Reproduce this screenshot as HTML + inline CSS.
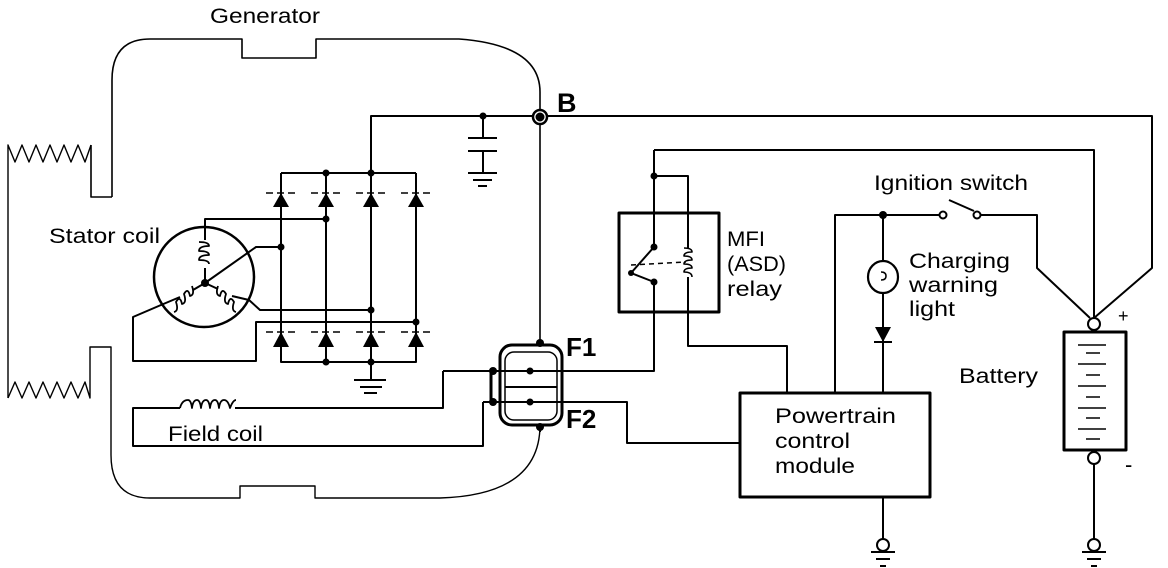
<!DOCTYPE html>
<html><head><meta charset="utf-8"><style>
html,body{margin:0;padding:0;background:#fff;}
svg{display:block;}
text{font-family:"Liberation Sans",sans-serif;fill:#000;}
</style></head><body>
<svg width="1168" height="568" viewBox="0 0 1168 568" xmlns="http://www.w3.org/2000/svg">
<g fill="none" stroke="#000" stroke-width="2" stroke-linejoin="round">
<path d="M112,197 L112,80 Q112,39 150,39 L242,39 L242,58 L316,58 L316,39 L459,39 Q540,45 540,92 L540,343" stroke-width="1.6"/>
<path d="M112,197 L91,197 L91,145" stroke-width="1.6"/>
<path d="M8,398 L8,145 L15,162 L22,145 L29,162 L36,145 L43,162 L50,145 L57,162 L64,145 L71,162 L78,145 L85,162 L91,145" stroke-width="1.4"/>
<path d="M8,398 L15,382 L22,398 L29,382 L36,398 L43,382 L50,398 L57,382 L64,398 L71,382 L78,398 L85,382 L90,398 L90,347 L111,347 L111,455 Q111,498 150,498 L240,498 L240,486 L315,486 L315,498 L440,498 Q540,495 540,425" stroke-width="1.4"/>
<path d="M371,173 L371,116 L1152,116 L1152,268 L1094,318"/>
<circle cx="540" cy="117" r="7" fill="#fff" stroke-width="2.5"/>
<circle cx="540" cy="117" r="3.5" fill="#000"/>
<path d="M483,116 L483,138 M468,138 L497,138 M468,151 L497,151 M483,151 L483,173 M468,173 L497,173 M473,180 L492,180 M478,186 L487,186"/>
<path d="M281,173 L416,173 M281,173 L281,362 L416,362 L416,173 M326,173 L326,362 M371,173 L371,362"/>
<path d="M371,362 L371,380 M354,380 L386,380 M360,387 L382,387 M364,393 L377,393"/>
<g stroke-width="1.5"><path d="M266,193 L296,193 M311,193 L341,193 M356,193 L386,193 M401,193 L431,193 M266,332 L296,332 M311,332 L341,332 M356,332 L386,332 M401,332 L431,332" stroke-dasharray="7,4"/></g>
<g fill="#000" stroke="none">
<polygon points="281,193 273,207 289,207"/><polygon points="326,193 318,207 334,207"/><polygon points="371,193 363,207 379,207"/><polygon points="416,193 408,207 424,207"/>
<polygon points="281,332 273,347 289,347"/><polygon points="326,332 318,347 334,347"/><polygon points="371,332 363,347 379,347"/><polygon points="416,332 408,347 424,347"/>
<circle cx="326" cy="173" r="3.5"/><circle cx="371" cy="173" r="3.5"/><circle cx="483" cy="116" r="3.5"/>
<circle cx="326" cy="219" r="3.5"/><circle cx="281" cy="247" r="3.5"/><circle cx="371" cy="310" r="3.5"/><circle cx="416" cy="322" r="3.5"/>
<circle cx="326" cy="362" r="3.5"/><circle cx="371" cy="362" r="3.5"/>
<circle cx="205" cy="283" r="4"/>
</g>
<circle cx="204" cy="277" r="50" stroke-width="2.5"/>
<path d="M205,227 L205,219 L326,219 M205,227 L205,240 M205,268 L205,283 M205,283 L256,247 L281,247"/>
<path d="M199,242 q10,0 10,4 q-10,0 -10,5 q10,0 10,4 q-10,0 -10,5 q10,0 10,4" stroke-width="1.8"/>
<path d="M205,283 L193,290 M180,297 L161,305 L133,317 L133,361 L256,361 L256,322 L416,322"/>
<path d="M192,286 q3,9 -2,10 q-2,-9 -6,-2 q3,9 -2,10 q-2,-9 -6,-2 q3,9 -2,10" stroke-width="1.8"/>
<path d="M205,283 L218,289 M232,296 L249,300 L260,310 L371,310"/>
<path d="M218,286 q-3,9 2,10 q2,-9 6,-2 q-3,9 2,10 q2,-9 6,-2 q-3,9 2,10" stroke-width="1.8"/>
<rect x="500" y="345" width="62" height="80" rx="12" stroke-width="3"/>
<rect x="505" y="352" width="52" height="68" rx="9" stroke-width="1.5"/>
<path d="M505,387 L557,387"/>
<path d="M443,371 L654,371 L654,282 M483,402 L627,402 L627,443 L740,443"/>
<path d="M491,371 L491,402" stroke-width="3"/>
<path d="M540,425 L540,432"/>
<path d="M443,371 L443,408 L235,408 M180,408 L133,408 L133,446 L483,446 L483,402"/>
<path d="M180,408 q2,-8 8,-8 q3,0 4,8 q1,-8 5,-8 q3,0 4,8 q1,-8 5,-8 q3,0 4,8 q1,-8 5,-8 q3,0 4,8 q1,-8 5,-8 q4,0 6,8 q3,-8 6,-8" stroke-width="1.8"/>
<g fill="#000" stroke="none">
<circle cx="530" cy="371" r="3.5"/><circle cx="530" cy="402" r="3.5"/><circle cx="493" cy="371" r="4"/><circle cx="493" cy="402" r="4"/>
<circle cx="540" cy="343" r="4"/><circle cx="540" cy="427" r="4"/>
</g>
<rect x="619" y="213" width="100" height="99" stroke-width="3"/>
<path d="M654,150 L1094,150 L1094,318 M654,150 L654,247 M654,176 L688,176 L688,248 M688,277 L688,346 L787,346 L787,393"/>
<path d="M631,273 L654,247 M631,273 L654,282"/>
<path d="M631,265 L686,262" stroke-dasharray="5,4" stroke-width="1.5"/>
<path d="M684,248 q8,0 8,4 q-8,0 -8,4 q8,0 8,4 q-8,0 -8,4 q8,0 8,4 q-8,0 -8,4 q8,0 8,5" stroke-width="1.6"/>
<g fill="#000" stroke="none"><circle cx="654" cy="176" r="3.5"/><circle cx="654" cy="247" r="3.5"/><circle cx="654" cy="282" r="3.5"/><circle cx="631" cy="273" r="3"/><circle cx="883" cy="215" r="4"/></g>
<rect x="740" y="393" width="190" height="104" stroke-width="3"/>
<path d="M835,393 L835,215 L939,215 M949,200 L974,211 M981,215 L1037,215 L1037,268 L1090,318"/>
<circle cx="943" cy="215" r="3.5" fill="#fff"/><circle cx="977" cy="215" r="3.5" fill="#fff"/>
<path d="M883,215 L883,261 M883,293 L883,393"/>
<ellipse cx="883" cy="277" rx="15" ry="16" stroke-width="2.2"/>
<path d="M881,272 q5,0 5,4 q0,4 -5,4" stroke-width="1.5"/>
<polygon points="875,327 891,327 883,342" fill="#000" stroke="none"/>
<path d="M874,342 L892,342"/>
<path d="M883,497 L883,539 M871,552 L895,552 M876,559 L890,559 M880,566 L886,566"/>
<circle cx="883" cy="545" r="6" fill="#fff"/>
<rect x="1064" y="332" width="62" height="118" stroke-width="3"/>
<circle cx="1094" cy="324" r="6" fill="#fff"/>
<circle cx="1094" cy="458" r="6" fill="#fff"/>
<path d="M1094,464 L1094,539 M1082,552 L1106,552 M1087,559 L1101,559 M1091,566 L1097,566"/>
<circle cx="1094" cy="545" r="6" fill="#fff"/>
<path d="M1078,345 L1106,345 M1086,353 L1100,353 M1078,364 L1106,364 M1086,375 L1100,375 M1078,386 L1106,386 M1086,397 L1100,397 M1078,408 L1106,408 M1086,418 L1100,418 M1078,429 L1106,429 M1086,439 L1100,439" stroke-width="1.4"/>
</g>
<g font-size="21">
<text x="210" y="23" textLength="110" lengthAdjust="spacingAndGlyphs">Generator</text>
<text x="557" y="112" font-weight="bold" font-size="27">B</text>
<text x="49" y="243" textLength="111" lengthAdjust="spacingAndGlyphs">Stator coil</text>
<text x="566" y="356" font-weight="bold" font-size="26">F1</text>
<text x="566" y="428" font-weight="bold" font-size="26">F2</text>
<text x="168" y="441" textLength="95" lengthAdjust="spacingAndGlyphs">Field coil</text>
<text x="727" y="246" textLength="38" lengthAdjust="spacingAndGlyphs">MFI</text>
<text x="727" y="271" textLength="59" lengthAdjust="spacingAndGlyphs">(ASD)</text>
<text x="727" y="296" textLength="55" lengthAdjust="spacingAndGlyphs">relay</text>
<text x="874" y="190" textLength="154" lengthAdjust="spacingAndGlyphs">Ignition switch</text>
<text x="909" y="268" textLength="101" lengthAdjust="spacingAndGlyphs">Charging</text>
<text x="909" y="292" textLength="89" lengthAdjust="spacingAndGlyphs">warning</text>
<text x="909" y="316" textLength="46" lengthAdjust="spacingAndGlyphs">light</text>
<text x="959" y="383" textLength="79" lengthAdjust="spacingAndGlyphs">Battery</text>
<text x="775" y="423" textLength="121" lengthAdjust="spacingAndGlyphs">Powertrain</text>
<text x="775" y="448" textLength="75" lengthAdjust="spacingAndGlyphs">control</text>
<text x="775" y="473" textLength="80" lengthAdjust="spacingAndGlyphs">module</text>
<text x="1118" y="322" font-size="18">+</text>
<text x="1125" y="472" font-size="22">-</text>
</g>
</svg>
</body></html>
